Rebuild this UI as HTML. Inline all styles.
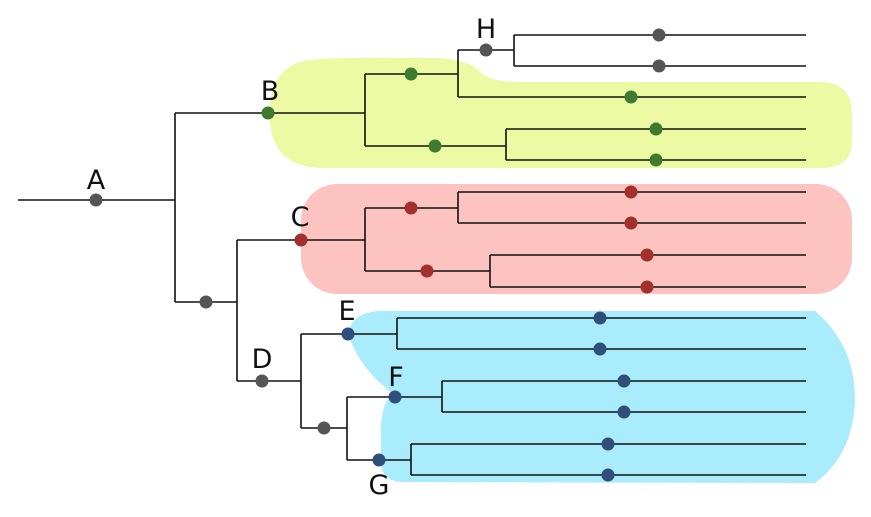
<!DOCTYPE html>
<html><head><style>body{margin:0;background:#fff}</style></head><body>
<svg width="871" height="512" viewBox="0 0 871 512" xmlns="http://www.w3.org/2000/svg" font-family="DejaVu Sans, sans-serif" font-size="27">
<path d="M310,60 Q330,57 440,58 Q470,60 480,72 Q490,82 520,82 L820,82 Q852,82 852,115 L852,140 Q852,168 822,168 L320,168 Q272,166 270,120 L270,105 Q274,64 310,60Z" fill="#ebfaa3"/>
<rect x="301" y="184" width="551" height="110" rx="36" fill="#fdc3c1"/>
<path d="M348,334 Q352,312 380,311 L815,311 Q855,345 855,400 Q853,455 815,483 L400,482 Q380,480 381,460 L381,425 Q383,398 395,395 Q360,370 348,334Z" fill="#a9ecfb"/>
<g stroke="#111" stroke-width="1.6" fill="none">
<path d="M18,200H175M175,113V302M175,113H365M365,74V146M365,74H458M458,50V97M458,50H514M514,35V66M514,35H806M514,66H806M458,97H806M365,146H506M506,129V160M506,129H806M506,160H806"/>
<path d="M175,302H237M237,240V381M237,240H365M365,208V271M365,208H458M458,192V223M458,192H806M458,223H806M365,271H490M490,255V287M490,255H806M490,287H806"/>
<path d="M237,381H301M301,334V428M301,334H397M397,318V349M397,318H806M397,349H806M301,428H347M347,397V460M347,397H442M442,381V412M442,381H806M442,412H806M347,460H411M411,444V475M411,444H806M411,475H806"/>
</g>
<g fill="#555"><circle cx="96" cy="200" r="6.5"/><circle cx="486" cy="50" r="6.5"/><circle cx="659" cy="35" r="6.5"/><circle cx="659" cy="66" r="6.5"/><circle cx="206" cy="302" r="6.5"/><circle cx="262" cy="381" r="6.5"/><circle cx="324" cy="428" r="6.5"/></g>
<g fill="#3f7a30"><circle cx="268" cy="113" r="6.5"/><circle cx="411" cy="74" r="6.5"/><circle cx="631" cy="97" r="6.5"/><circle cx="435" cy="146" r="6.5"/><circle cx="656" cy="129" r="6.5"/><circle cx="656" cy="160" r="6.5"/></g>
<g fill="#a3302c"><circle cx="301" cy="240" r="6.5"/><circle cx="411" cy="208" r="6.5"/><circle cx="631" cy="192" r="6.5"/><circle cx="631" cy="223" r="6.5"/><circle cx="427" cy="271" r="6.5"/><circle cx="647" cy="255" r="6.5"/><circle cx="647" cy="287" r="6.5"/></g>
<g fill="#2e4f7a"><circle cx="348" cy="334" r="6.5"/><circle cx="600" cy="318" r="6.5"/><circle cx="600" cy="349" r="6.5"/><circle cx="395" cy="397" r="6.5"/><circle cx="624" cy="381" r="6.5"/><circle cx="624" cy="412" r="6.5"/><circle cx="379" cy="460" r="6.5"/><circle cx="608" cy="444" r="6.5"/><circle cx="608" cy="475" r="6.5"/></g>
<g fill="#111" text-anchor="middle">
<text x="96" y="189">A</text><text x="270" y="100">B</text><text x="486" y="38">H</text><text x="300" y="226">C</text><text x="262" y="368">D</text><text x="347" y="320">E</text><text x="396" y="386">F</text><text x="379" y="494">G</text>
</g>
</svg>
</body></html>
